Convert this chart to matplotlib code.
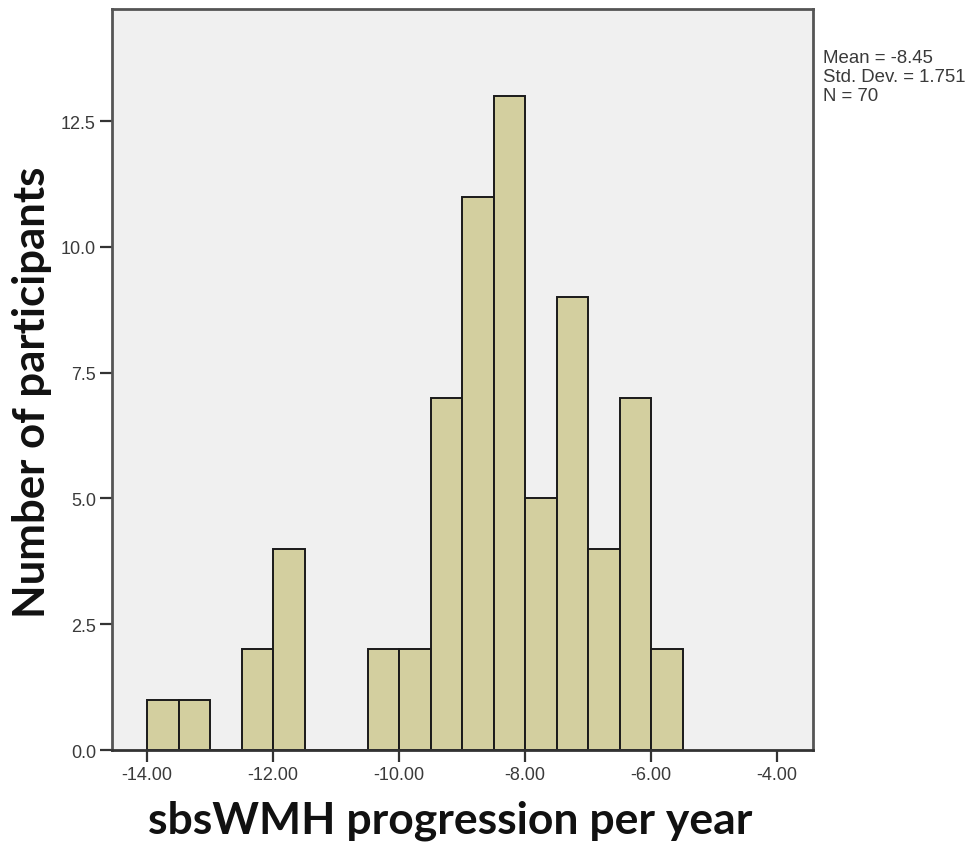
import numpy as np
import matplotlib.pyplot as plt

### Histogram data (bin width 0.5)
bin_left = [-14.0, -13.5, -13.0, -12.5, -12.0, -11.5, -11.0, -10.5, -10.0,
            -9.5, -9.0, -8.5, -8.0, -7.5, -7.0, -6.5, -6.0]
counts = [1, 1, 0, 2, 4, 0, 0, 2, 2, 7, 11, 13, 5, 9, 4, 7, 2]
bin_width = 0.5

x_ticks = [-14.0, -12.0, -10.0, -8.0, -6.0, -4.0]
y_ticks = [0.0, 2.5, 5.0, 7.5, 10.0, 12.5]
stats_text = 'Mean = -8.45\nStd. Dev. = 1.751\nN = 70'

### Figure
fig = plt.figure(figsize=(9.71, 8.54), dpi=100)
ax = fig.add_axes([0.1153, 0.1206, 0.7219, 0.8677])
ax.set_facecolor('#f0f0f0')

ax.bar(bin_left, counts, width=bin_width, align='edge',
       color='#d3cf9f', edgecolor='#1a1a1a', linewidth=1.4)

ax.set_xlim(-14.56, -3.43)
ax.set_ylim(0, 14.73)
ax.set_xticks(x_ticks)
ax.set_xticklabels(['%.2f' % t for t in x_ticks])
ax.set_yticks(y_ticks)
ax.set_yticklabels(['%.1f' % t for t in y_ticks])

for s in ax.spines.values():
    s.set_color('#555555')
    s.set_linewidth(2)
ax.spines['bottom'].set_color('#333333')

ax.tick_params(axis='both', direction='out', length=8.5, width=1.6,
               color='#333333', labelsize=13, labelcolor='#3a3a3a', pad=3)
for lab in ax.get_xticklabels() + ax.get_yticklabels():
    lab.set_family('Liberation Sans')

ax.set_xlabel('sbsWMH progression per year', fontsize=32, fontweight='bold',
              family='Lato', color='#111111')
ax.xaxis.set_label_coords(0.482, -0.067, transform=ax.transAxes)
ax.xaxis.label.set_va('top')
ax.set_ylabel('Number of participants', fontsize=31.5, fontweight='bold',
              family='Lato', color='#111111')
ax.yaxis.set_label_coords(-0.086, 0.4845, transform=ax.transAxes)

fig.text(0.848, 0.941, stats_text, fontsize=13.4, family='Liberation Sans',
         color='#3a3a3a', va='top', ha='left', linespacing=1.14)

plt.savefig('out.png', dpi=100)
